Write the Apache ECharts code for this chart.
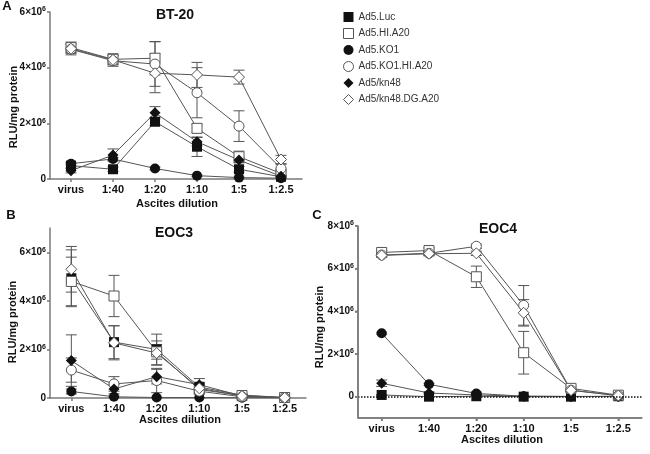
<!DOCTYPE html>
<html><head><meta charset="utf-8">
<script src="https://cdn.jsdelivr.net/npm/echarts@6/dist/echarts.min.js"></script>
<style>html,body{margin:0;padding:0;background:#fff}#c{width:650px;height:454px}</style>
</head><body><div id="c"></div>
<script>
// ---- data (values in units of 10^6 RLU/mg protein) ----
const categories = ['virus', '1:40', '1:20', '1:10', '1:5', '1:2.5'];
const seriesNames = ['Ad5.Luc', 'Ad5.HI.A20', 'Ad5.KO1', 'Ad5.KO1.HI.A20', 'Ad5/kn48', 'Ad5/kn48.DG.A20'];
const yTicksA = [0, 2, 4, 6];
const yTicksB = [0, 2, 4, 6];
const yTicksC = [0, 2, 4, 6, 8];

// Panel A: BT-20
const bt20_Luc      = [0.48, 0.35, 2.06, 1.16, 0.35, 0.08];
const bt20_HIA20    = [4.72, 4.30, 4.34, 1.82, 0.80, 0.20];
const bt20_KO1      = [0.55, 0.72, 0.38, 0.12, 0.05, 0.03];
const bt20_KO1HIA20 = [4.66, 4.25, 4.13, 3.10, 1.90, 0.38];
const bt20_kn48     = [0.30, 0.86, 2.38, 1.34, 0.68, 0.10];
const bt20_kn48DG   = [4.68, 4.28, 3.80, 3.74, 3.66, 0.70];
const bt20Err_Luc      = [0.08, 0.08, 0.15, 0.35, 0.10, 0.05];
const bt20Err_HIA20    = [0.20, 0.20, 0.60, 0.15, 0.20, 0.10];
const bt20Err_KO1      = [0.05, 0.05, 0.05, 0.03, 0.02, 0.02];
const bt20Err_KO1HIA20 = [0.20, 0.20, 0.80, 0.90, 0.55, 0.15];
const bt20Err_kn48     = [0.08, 0.22, 0.22, 0.15, 0.10, 0.05];
const bt20Err_kn48DG   = [0.15, 0.15, 0.70, 0.45, 0.25, 0.15];

// Panel B: EOC3
const eoc3_Luc      = [4.93, 2.30, 2.00, 0.45, 0.12, 0.02];
const eoc3_HIA20    = [4.80, 4.20, 1.90, 0.35, 0.10, 0.02];
const eoc3_KO1      = [0.27, 0.05, 0.02, 0.02, 0.01, 0.01];
const eoc3_KO1HIA20 = [1.15, 0.58, 0.72, 0.28, 0.05, 0.01];
const eoc3_kn48     = [1.54, 0.37, 0.88, 0.55, 0.08, 0.01];
const eoc3_kn48DG   = [5.30, 2.27, 1.85, 0.40, 0.08, 0.01];
const eoc3Err_Luc      = [1.17, 0.68, 0.63, 0.20, 0.05, 0.02];
const eoc3Err_HIA20    = [1.00, 0.85, 0.30, 0.15, 0.05, 0.00];
const eoc3Err_KO1      = [0.10, 0.03, 0.02, 0.00, 0.00, 0.00];
const eoc3Err_KO1HIA20 = [0.50, 0.30, 0.50, 0.10, 0.02, 0.00];
const eoc3Err_kn48     = [1.06, 0.20, 0.30, 0.25, 0.05, 0.00];
const eoc3Err_kn48DG   = [0.94, 0.70, 0.50, 0.20, 0.05, 0.00];

// Panel C: EOC4
const eoc4_Luc      = [0.08, 0.00, 0.02, 0.00, 0.00, 0.02];
const eoc4_HIA20    = [6.76, 6.85, 5.62, 2.06, 0.39, 0.07];
const eoc4_KO1      = [2.97, 0.58, 0.15, 0.02, 0.01, 0.01];
const eoc4_KO1HIA20 = [6.64, 6.72, 7.05, 4.28, 0.30, 0.05];
const eoc4_kn48     = [0.63, 0.17, 0.08, 0.02, 0.01, 0.01];
const eoc4_kn48DG   = [6.62, 6.70, 6.72, 3.93, 0.30, 0.05];
const eoc4Err_Luc      = [0.02, 0.00, 0.00, 0.00, 0.00, 0.00];
const eoc4Err_HIA20    = [0.10, 0.12, 0.50, 1.00, 0.10, 0.05];
const eoc4Err_KO1      = [0.05, 0.05, 0.03, 0.00, 0.00, 0.00];
const eoc4Err_KO1HIA20 = [0.10, 0.10, 0.10, 0.93, 0.05, 0.00];
const eoc4Err_kn48     = [0.15, 0.05, 0.02, 0.00, 0.00, 0.00];
const eoc4Err_kn48DG   = [0.05, 0.10, 0.10, 0.62, 0.05, 0.00];

// ---- styles ----
const FONT = '"Liberation Sans", Arial, sans-serif';
const AXIS_COLOR = '#7a7a7a';
const markerStyles = [
  {symbol: 'rect',    filled: true},
  {symbol: 'rect',    filled: false},
  {symbol: 'circle',  filled: true},
  {symbol: 'circle',  filled: false},
  {symbol: 'diamond', filled: true},
  {symbol: 'diamond', filled: false}
];
const symbolSizes = {rect: 10, circle: 10, diamond: 11};
function itemStyleFor(i) {
  return markerStyles[i].filled
    ? {color: '#111', borderColor: '#111', borderWidth: 0}
    : {color: '#fff', borderColor: '#555', borderWidth: 1};
}

const panels = [
  {vals: [bt20_Luc, bt20_HIA20, bt20_KO1, bt20_KO1HIA20, bt20_kn48, bt20_kn48DG],
   errs: [bt20Err_Luc, bt20Err_HIA20, bt20Err_KO1, bt20Err_KO1HIA20, bt20Err_kn48, bt20Err_kn48DG], minY: 0},
  {vals: [eoc3_Luc, eoc3_HIA20, eoc3_KO1, eoc3_KO1HIA20, eoc3_kn48, eoc3_kn48DG],
   errs: [eoc3Err_Luc, eoc3Err_HIA20, eoc3Err_KO1, eoc3Err_KO1HIA20, eoc3Err_kn48, eoc3Err_kn48DG], minY: 0},
  {vals: [eoc4_Luc, eoc4_HIA20, eoc4_KO1, eoc4_KO1HIA20, eoc4_kn48, eoc4_kn48DG],
   errs: [eoc4Err_Luc, eoc4Err_HIA20, eoc4Err_KO1, eoc4Err_KO1HIA20, eoc4Err_kn48, eoc4Err_kn48DG], minY: -1}
];

function als() { return {color: AXIS_COLOR, width: 1.5}; }
function yLabelFmt(v) { return v === 0 ? '{n|0}' : '{n|' + v + '×10}{s|6}'; }
function yLabelRich() {
  return {
    n: {fontSize: 10, fontWeight: 'bold', fontFamily: FONT, color: '#111', lineHeight: 12},
    s: {fontSize: 7, fontWeight: 'bold', fontFamily: FONT, color: '#111', lineHeight: 8, verticalAlign: 'top'}
  };
}
function makeY(idx, min, max, ticks) {
  return {
    type: 'value', gridIndex: idx, min: min, max: max,
    splitLine: {show: false},
    axisLine: {show: true, onZero: false, lineStyle: als()},
    axisTick: {show: true, length: 3, lineStyle: als(), customValues: ticks.slice()},
    axisLabel: {show: true, margin: 4, formatter: yLabelFmt, rich: yLabelRich(), customValues: ticks.slice()}
  };
}
function xLabelStyle() { return {fontSize: 11, fontWeight: 'bold', fontFamily: FONT, color: '#111'}; }
function makeX(idx) {
  return {type: 'category', gridIndex: idx, data: categories, boundaryGap: true,
    axisLine: {show: true, onZero: false, lineStyle: als()},
    axisTick: {show: true, alignWithLabel: true, length: 3, lineStyle: als()},
    axisLabel: Object.assign({margin: 5, interval: 0}, xLabelStyle())};
}

const xAxes = [makeX(0), makeX(1), makeX(2)];
const yAxes = [makeY(0, 0, 6, yTicksA), makeY(1, 0, 7, yTicksB), makeY(2, -1, 8, yTicksC)];

const series = [];
panels.forEach(function (p, pi) {
  // error bars
  const errData = [];
  p.vals.forEach(function (vals, si) {
    vals.forEach(function (v, ci) {
      const e = p.errs[si][ci];
      if (e > 0) errData.push([ci, Math.max(v - e, p.minY), v + e]);
    });
  });
  series.push({
    type: 'custom', name: 'err' + pi, xAxisIndex: pi, yAxisIndex: pi, silent: true,
    encode: {x: 0, y: [1, 2]}, data: errData,
    renderItem: function (params, api) {
      const x = api.value(0), lo = api.value(1), hi = api.value(2);
      const a = api.coord([x, lo]), b = api.coord([x, hi]);
      const hw = 5.5, st = {stroke: '#555', lineWidth: 1};
      return {type: 'group', children: [
        {type: 'line', shape: {x1: a[0], y1: a[1], x2: b[0], y2: b[1]}, style: st},
        {type: 'line', shape: {x1: a[0] - hw, y1: a[1], x2: a[0] + hw, y2: a[1]}, style: st},
        {type: 'line', shape: {x1: b[0] - hw, y1: b[1], x2: b[0] + hw, y2: b[1]}, style: st}
      ]};
    }
  });
  p.vals.forEach(function (vals, si) {
    const s = {
      type: 'line', name: seriesNames[si], xAxisIndex: pi, yAxisIndex: pi,
      data: vals,
      symbol: markerStyles[si].symbol, symbolSize: symbolSizes[markerStyles[si].symbol],
      showAllSymbol: true,
      itemStyle: itemStyleFor(si),
      lineStyle: {color: '#555', width: 1},
      emphasis: {disabled: true}
    };
    if (pi === 2 && si === 0) {
      s.markLine = {silent: true, symbol: 'none', label: {show: false},
        lineStyle: {type: 'dotted', color: '#111', width: 1.5}, data: [{yAxis: 0}]};
    }
    series.push(s);
  });
});

const legendData = seriesNames.map(function (n, i) {
  return {name: n, icon: markerStyles[i].symbol, itemStyle: itemStyleFor(i)};
});

let gid = 0;
const txt = function (text, x, y, size, opts) {
  return Object.assign({id: 'g' + (gid++), type: 'text', x: x, y: y, style: {text: text, fontSize: size, fontWeight: 'bold',
    fontFamily: FONT, fill: '#111', textAlign: 'center', textVerticalAlign: 'middle'}}, opts || {});
};

const grids = [
  {left: 50, top: 12, width: 252, height: 167},
  {left: 50, top: 228, width: 256, height: 170},
  {left: 358, top: 226, width: 284, height: 192}
];
const texts = [
  txt('A', 7, 6, 13),
  txt('B', 11, 215, 13),
  txt('C', 317, 215, 13),
  txt('BT-20', 175, 15, 14),
  txt('EOC3', 174, 233, 14),
  txt('EOC4', 498, 229, 14),
  txt('Ascites dilution', 177, 204, 11),
  txt('Ascites dilution', 180, 420, 11),
  txt('Ascites dilution', 502, 440, 11),
  txt('RLU/mg protein', 14, 107, 11, {rotation: Math.PI / 2}),
  txt('RLU/mg protein', 13, 322, 11, {rotation: Math.PI / 2}),
  txt('RLU/mg protein', 320, 327, 11, {rotation: Math.PI / 2})
];

const option = {
  animation: false,
  backgroundColor: '#fff',
  grid: grids,
  xAxis: xAxes,
  yAxis: yAxes,
  legend: {orient: 'vertical', left: 338, top: 7, itemWidth: 10, itemHeight: 10, itemGap: 6,
    textStyle: {fontSize: 10, color: '#333', fontFamily: FONT}, data: legendData, selectedMode: false},
  graphic: texts,
  series: series
};
const chart = echarts.init(document.getElementById('c'), null, {renderer: 'canvas'});
chart.setOption(option);

// Reinforce panel C axis frame (line + ticks) from the library's own scales.
try {
  const g = grids[2];
  const x0 = g.left, x1 = g.left + g.width;
  const yT = chart.convertToPixel({yAxisIndex: 2}, 8);
  const yB = chart.convertToPixel({yAxisIndex: 2}, -1);
  const st = {stroke: AXIS_COLOR, lineWidth: 1.5};
  const extra = [
    {id: 'cY', type: 'line', z: 50, shape: {x1: x0, y1: yT, x2: x0, y2: yB}, style: st},
    {id: 'cX', type: 'line', z: 50, shape: {x1: x0, y1: yB, x2: x1, y2: yB}, style: st}
  ];
  yTicksC.forEach(function (v, i) {
    const y = chart.convertToPixel({yAxisIndex: 2}, v);
    extra.push({id: 'cyt' + i, type: 'line', z: 50, shape: {x1: x0 - 3, y1: y, x2: x0, y2: y}, style: st});
  });
  categories.forEach(function (c, i) {
    const x = chart.convertToPixel({xAxisIndex: 2}, i);
    extra.push({id: 'cxt' + i, type: 'line', z: 50, shape: {x1: x, y1: yB, x2: x, y2: yB + 3}, style: st});
  });
  if (isFinite(yT) && isFinite(yB)) chart.setOption({graphic: texts.concat(extra)});
} catch (e) {}
</script>
</body></html>
